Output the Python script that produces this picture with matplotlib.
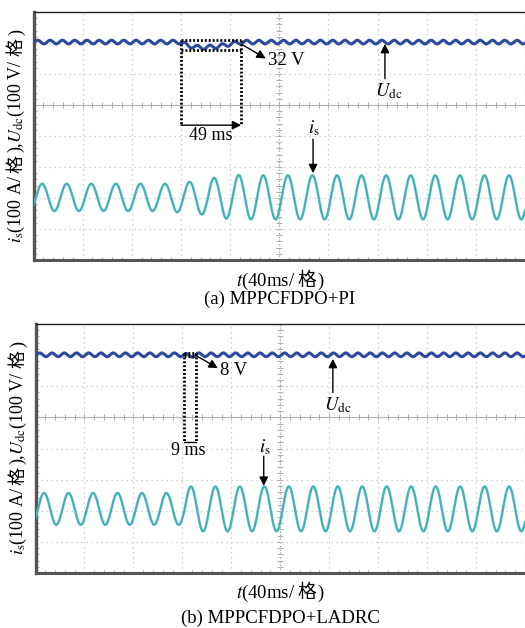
import numpy as np
import matplotlib
matplotlib.use('Agg')
import matplotlib.pyplot as plt
from matplotlib.ticker import MultipleLocator
from matplotlib.transforms import IdentityTransform

plt.rcParams['font.family'] = ['Liberation Serif', 'Noto Sans CJK SC']
plt.rcParams['mathtext.fontset'] = 'stix'

# ---------------- data ----------------
ms_per_div = 40          # t axis: 40 ms / division, 10 divisions
volt_per_div = 100       # Udc: 100 V / division
amp_per_div = 100        # is: 100 A / division

udc_level_div_a = 7.03
udc_level_div_b = 7.01
udc_ripple_v_a = 6.0
udc_ripple_v_b = 6.0
udc_dip_t_a = [0, 119, 126, 136, 150, 169, 400]
udc_dip_v_a = [0, 0, 12, 18, 14, 0, 0]
udc_dip_t_b = [0, 121, 125, 131, 400]
udc_dip_v_b = [0, 0, 4, 0, 0]

is_offset_div_a = 2.02
is_offset_div_b = 2.06
# peak current (A) of each grid half-cycle, extremum at t = -3 + 10*j ms
is_half_amp_a = [44, 44, 44, 44, 44, 44, 44, 44, 44, 44, 44, 44,
                 48, 50, 55, 63, 68, 72,
                 71, 71, 71, 71, 71, 71, 71, 71, 71, 71, 71, 71,
                 71, 71, 71, 71, 71, 71, 71, 71, 71, 71, 71]
is_half_amp_b = [51, 51, 51, 51, 51, 51, 51, 51, 51, 51, 51, 51, 51,
                 72, 72, 72, 72, 72, 72, 72, 72, 72, 72, 72, 72, 72, 72,
                 72, 72, 72, 72, 72, 72, 72, 72, 72, 72, 72, 72, 72, 72]

label_dv_a = '32 V'
label_dt_a = '49 ms'
label_dv_b = '8 V'
label_dt_b = '9 ms'
caption_a = '(a) MPPCFDPO+PI'
caption_b = '(b) MPPCFDPO+LADRC'

W, H = 525, 628
fig = plt.figure(figsize=(W / 100, H / 100), dpi=100)

UDC_COLOR = '#2D4A9C'
IS_COLOR = '#52BCC2'
IS_CORE = '#2E9399'

t = np.linspace(0, 400, 8001)


def current_wave(half_amp, offset):
    j = np.floor((t + 8) / 10).astype(int)
    amp = np.asarray(half_amp, dtype=float)[j]
    return offset + amp / amp_per_div * np.sin(2 * np.pi * (t - 2) / 20)


def udc_wave(level, ripple, dip_t, dip_v):
    dip = np.interp(t, dip_t, dip_v)
    return level + (ripple * np.sin(2 * np.pi * (t - 1) / 10) - dip) / volt_per_div


def scope_axes(rect):
    ax = fig.add_axes(rect)
    ax.set_xlim(0, 10 * ms_per_div)
    ax.set_ylim(0, 8)
    ax.xaxis.set_major_locator(MultipleLocator(ms_per_div))
    ax.yaxis.set_major_locator(MultipleLocator(1))
    ax.xaxis.set_minor_locator(MultipleLocator(ms_per_div / 5))
    ax.yaxis.set_minor_locator(MultipleLocator(0.2))
    ax.grid(True, which='major', color='#C2C2C2', lw=0.9, ls=(0, (1, 3)))
    ax.tick_params(which='major', length=0, labelbottom=False, labelleft=False)
    ax.tick_params(which='minor', direction='in', length=2.5, width=0.6, color='#A0A0A0')
    ax.spines['right'].set_visible(False)
    ax.spines['top'].set_linewidth(1.0)
    ax.spines['top'].set_color('#222222')
    ax.spines['left'].set_linewidth(2.4)
    ax.spines['left'].set_color('#555555')
    ax.spines['bottom'].set_linewidth(2.2)
    ax.spines['bottom'].set_color('#555555')
    ax.set_facecolor('white')
    # centre lines with small ticks
    ax.axhline(5, color='#B0B0B0', lw=0.8, zorder=1)
    ax.axvline(200, color='#A5A5A5', lw=0.9, ls=(0, (1, 2)), zorder=1)
    xs = np.arange(0, 400.1, 8)
    ax.plot(xs, np.full_like(xs, 5.0), ls='', marker='|', ms=4, mew=0.6, color='#A0A0A0', zorder=1)
    ys = np.arange(0, 8.01, 0.2)
    ax.plot(np.full_like(ys, 200.0), ys, ls='', marker='_', ms=4, mew=0.6, color='#A0A0A0', zorder=1)
    return ax


def draw_traces(ax, udc, cur):
    ax.plot(t, cur, color=IS_COLOR, lw=1.8, zorder=3, solid_capstyle='round')
    ax.plot(t, cur, color=IS_CORE, lw=0.5, alpha=0.6, zorder=3)
    ax.plot(t, udc, color=UDC_COLOR, lw=2.2, zorder=4)


ARROW = dict(arrowstyle='-|>', color='black', lw=1.0, mutation_scale=13, shrinkA=0, shrinkB=0)
DOT = dict(color='black', lw=2.0, ls=(0, (0.7, 0.7)), zorder=5)

# ---------------- panel (a) ----------------
ax_a = scope_axes([33.5 / W, 1 - 260 / H, (W - 33.5) / W, 248 / H])
draw_traces(ax_a,
            udc_wave(udc_level_div_a, udc_ripple_v_a, udc_dip_t_a, udc_dip_v_a),
            current_wave(is_half_amp_a, is_offset_div_a))
t0, t1 = 120, 169
ax_a.plot([t0, t1], [7.1, 7.1], **DOT)
ax_a.plot([t0, t1], [6.78, 6.78], **DOT)
ax_a.plot([t0, t0], [7.1, 4.35], **DOT)
ax_a.plot([t1, t1], [7.1, 4.35], **DOT)
ax_a.annotate('', xy=(t1, 4.35), xytext=(t0, 4.35), arrowprops=ARROW, zorder=6)
ax_a.text(144, 4.0, label_dt_a, fontsize=13, ha='center', va='center')
ax_a.annotate('', xy=(189, 6.5), xytext=(t1, 6.97), arrowprops=ARROW)
ax_a.text(191, 6.44, label_dv_a, fontsize=13.5, ha='left', va='center')
ax_a.annotate('', xy=(286, 6.97), xytext=(286, 5.85), arrowprops=ARROW)
ax_a.text(289, 5.45, r'$U_{\rm dc}$', fontsize=13.5, ha='center', va='center')
ax_a.text(228, 4.25, r'$i_{\rm s}$', fontsize=13.5, ha='center', va='center')
ax_a.annotate('', xy=(227.5, 2.8), xytext=(227.5, 3.9), arrowprops=ARROW)

# ---------------- panel (b) ----------------
ax_b = scope_axes([35.5 / W, 1 - 573 / H, (W - 35.5) / W, 249 / H])
draw_traces(ax_b,
            udc_wave(udc_level_div_b, udc_ripple_v_b, udc_dip_t_b, udc_dip_v_b),
            current_wave(is_half_amp_b, is_offset_div_b))
t0, t1 = 121, 131.5
ax_b.plot([t0, t1], [7.07, 7.07], **DOT)
ax_b.plot([t0, t1], [6.96, 6.96], **DOT)
ax_b.plot([t0, t0], [7.07, 4.22], **DOT)
ax_b.plot([t1, t1], [7.07, 4.22], **DOT)
ax_b.plot([t0, t1], [4.22, 4.22], color='black', lw=1.0, zorder=5)
ax_b.text(125, 3.93, label_dt_b, fontsize=13, ha='center', va='center')
ax_b.annotate('', xy=(149, 6.58), xytext=(t1, 6.98), arrowprops=ARROW)
ax_b.text(151, 6.5, label_dv_b, fontsize=13.5, ha='left', va='center')
ax_b.annotate('', xy=(243, 6.88), xytext=(243, 5.8), arrowprops=ARROW)
ax_b.text(247, 5.38, r'$U_{\rm dc}$', fontsize=13.5, ha='center', va='center')
ax_b.text(187.5, 4.05, r'$i_{\rm s}$', fontsize=13.5, ha='center', va='center')
ax_b.annotate('', xy=(186.5, 2.8), xytext=(186.5, 3.75), arrowprops=ARROW)


# ---------------- mixed Latin / CJK labels ----------------
def mixed_text(pieces, cx, cy, vertical, size):
    """cx, cy in pixels from the top-left; pieces drawn baseline-to-baseline."""
    renderer = fig.canvas.get_renderer()
    texts, lengths = [], []
    for s, fam, gap in pieces:
        kw = dict(fontsize=size, rotation=90 if vertical else 0, rotation_mode='anchor',
                  ha='left', va='baseline', transform=IdentityTransform())
        if fam:
            kw['family'] = fam
        tx = fig.text(0, 0, s, **kw)
        bb = tx.get_window_extent(renderer)
        texts.append(tx)
        lengths.append((bb.height if vertical else bb.width) + gap)
    total = sum(lengths)
    ydisp = H - cy
    if vertical:
        pos = ydisp - total / 2
        for tx, L in zip(texts, lengths):
            tx.set_position((cx, pos))
            pos += L
    else:
        pos = cx - total / 2
        for tx, L in zip(texts, lengths):
            tx.set_position((pos, ydisp))
            pos += L


CJK = 'Noto Sans CJK SC'
ylab = [(r'$i_{\rm s}$(100 A/', None, 2), ('格', CJK, 2), (r'),$U_{\rm dc}$(100 V/', None, 3),
        ('格', CJK, 3), (')', None, 0)]
xlab = [(r'$t$(40ms/', None, 2), ('格', CJK, 2), (')', None, 0)]

mixed_text(ylab, 21, 136, True, 13)
mixed_text(ylab, 23, 448, True, 13)
mixed_text(xlab, 280, 286, False, 13.5)
mixed_text(xlab, 280, 598, False, 13.5)

fig.text(280 / W, 1 - 299 / H, caption_a, fontsize=13.5, ha='center', va='center')
fig.text(280 / W, 1 - 618 / H, caption_b, fontsize=13.5, ha='center', va='center')

fig.savefig('out.png', dpi=100)
